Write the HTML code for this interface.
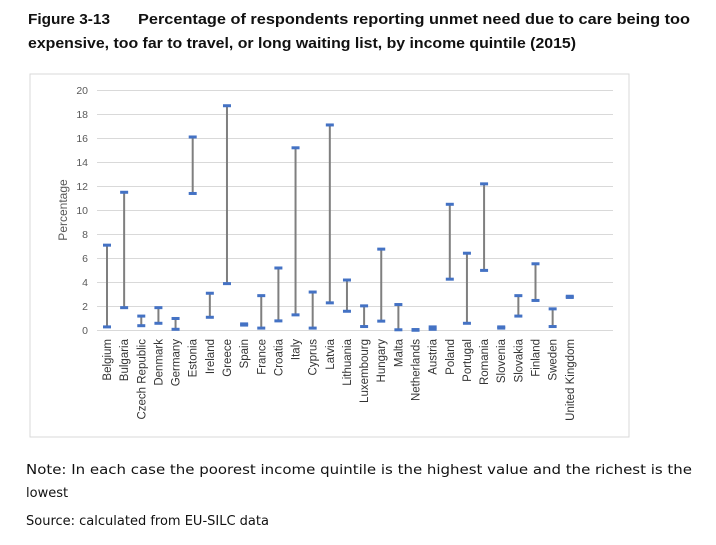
<!DOCTYPE html>
<html><head><style>
body{margin:0;background:#fff;width:716px;height:540px;overflow:hidden}
</style></head><body>
<svg width="716" height="540" xmlns="http://www.w3.org/2000/svg" font-family="Liberation Sans, sans-serif">
<text x="28" y="24" font-size="15" font-weight="bold" fill="#111" textLength="82" lengthAdjust="spacingAndGlyphs">Figure 3-13</text>
<text x="138" y="24" font-size="15" font-weight="bold" fill="#111" textLength="552" lengthAdjust="spacingAndGlyphs">Percentage of respondents reporting unmet need due to care being too</text>
<text x="28" y="48" font-size="15" font-weight="bold" fill="#111" textLength="548" lengthAdjust="spacingAndGlyphs">expensive, too far to travel, or long waiting list, by income quintile  (2015)</text>
<rect x="30" y="74" width="599" height="363" fill="none" stroke="#d9d9d9" stroke-width="1"/>
<g stroke="#d9d9d9" stroke-width="1">
<line x1="97" x2="613" y1="90.5" y2="90.5"/><line x1="97" x2="613" y1="114.5" y2="114.5"/>
<line x1="97" x2="613" y1="138.5" y2="138.5"/><line x1="97" x2="613" y1="162.5" y2="162.5"/>
<line x1="97" x2="613" y1="186.5" y2="186.5"/><line x1="97" x2="613" y1="210.5" y2="210.5"/>
<line x1="97" x2="613" y1="234.5" y2="234.5"/><line x1="97" x2="613" y1="258.5" y2="258.5"/>
<line x1="97" x2="613" y1="282.5" y2="282.5"/><line x1="97" x2="613" y1="306.5" y2="306.5"/>
<line x1="97" x2="613" y1="330.5" y2="330.5"/>
</g>
<g font-size="10.5" fill="#595959" text-anchor="end">
<text x="88" y="94">20</text><text x="88" y="118">18</text><text x="88" y="142">16</text><text x="88" y="166">14</text>
<text x="88" y="190">12</text><text x="88" y="214">10</text><text x="88" y="238">8</text><text x="88" y="262">6</text>
<text x="88" y="286">4</text><text x="88" y="310">2</text><text x="88" y="334">0</text>
</g>
<text transform="translate(67,210) rotate(-90)" font-size="12" fill="#595959" text-anchor="middle">Percentage</text>
<g id="bars"></g>
<g id="labels" font-size="11.5" fill="#333"></g>
<text x="26" y="474" font-family="DejaVu Sans, sans-serif" font-size="13" fill="#111" textLength="666" lengthAdjust="spacingAndGlyphs">Note: In each case the poorest income quintile is the highest value and the richest is the</text>
<text x="26" y="497" font-family="DejaVu Sans, sans-serif" font-size="13" fill="#111">lowest</text>
<text x="26" y="525" font-family="DejaVu Sans, sans-serif" font-size="13" fill="#111">Source: calculated from EU-SILC data</text>
<script>
var d=[["Belgium",7.1,0.3],["Bulgaria",11.5,1.9],["Czech Republic",1.2,0.4],["Denmark",1.9,0.6],["Germany",1.0,0.1],["Estonia",16.1,11.4],["Ireland",3.1,1.1],["Greece",18.7,3.9],["Spain",0.55,0.45],["France",2.9,0.2],["Croatia",5.2,0.8],["Italy",15.2,1.3],["Cyprus",3.2,0.2],["Latvia",17.1,2.3],["Lithuania",4.2,1.6],["Luxembourg",2.05,0.33],["Hungary",6.77,0.78],["Malta",2.16,0.06],["Netherlands",0.08,0.02],["Austria",0.3,0.1],["Poland",10.5,4.27],["Portugal",6.43,0.6],["Romania",12.2,5.0],["Slovenia",0.3,0.2],["Slovakia",2.9,1.2],["Finland",5.55,2.5],["Sweden",1.8,0.33],["United Kingdom",2.85,2.75]];
var ns="http://www.w3.org/2000/svg",b=document.getElementById("bars"),l=document.getElementById("labels");
function y(v){return 330.5-v*12.02}
d.forEach(function(r,i){var x=107+i*17.14;
var ln=document.createElementNS(ns,"line");ln.setAttribute("x1",x);ln.setAttribute("x2",x);ln.setAttribute("y1",y(r[1]));ln.setAttribute("y2",y(r[2]));ln.setAttribute("stroke","#7f7f7f");ln.setAttribute("stroke-width","2");b.appendChild(ln);
[r[1],r[2]].forEach(function(v){var c=document.createElementNS(ns,"rect");c.setAttribute("x",x-4);c.setAttribute("y",y(v)-1.5);c.setAttribute("width",8);c.setAttribute("height",3);c.setAttribute("fill","#4472c4");b.appendChild(c);});
var t=document.createElementNS(ns,"text");t.setAttribute("transform","translate("+(x+4)+",339) rotate(-90)");t.setAttribute("text-anchor","end");t.textContent=r[0];l.appendChild(t);});
</script>
</svg>
</body></html>
